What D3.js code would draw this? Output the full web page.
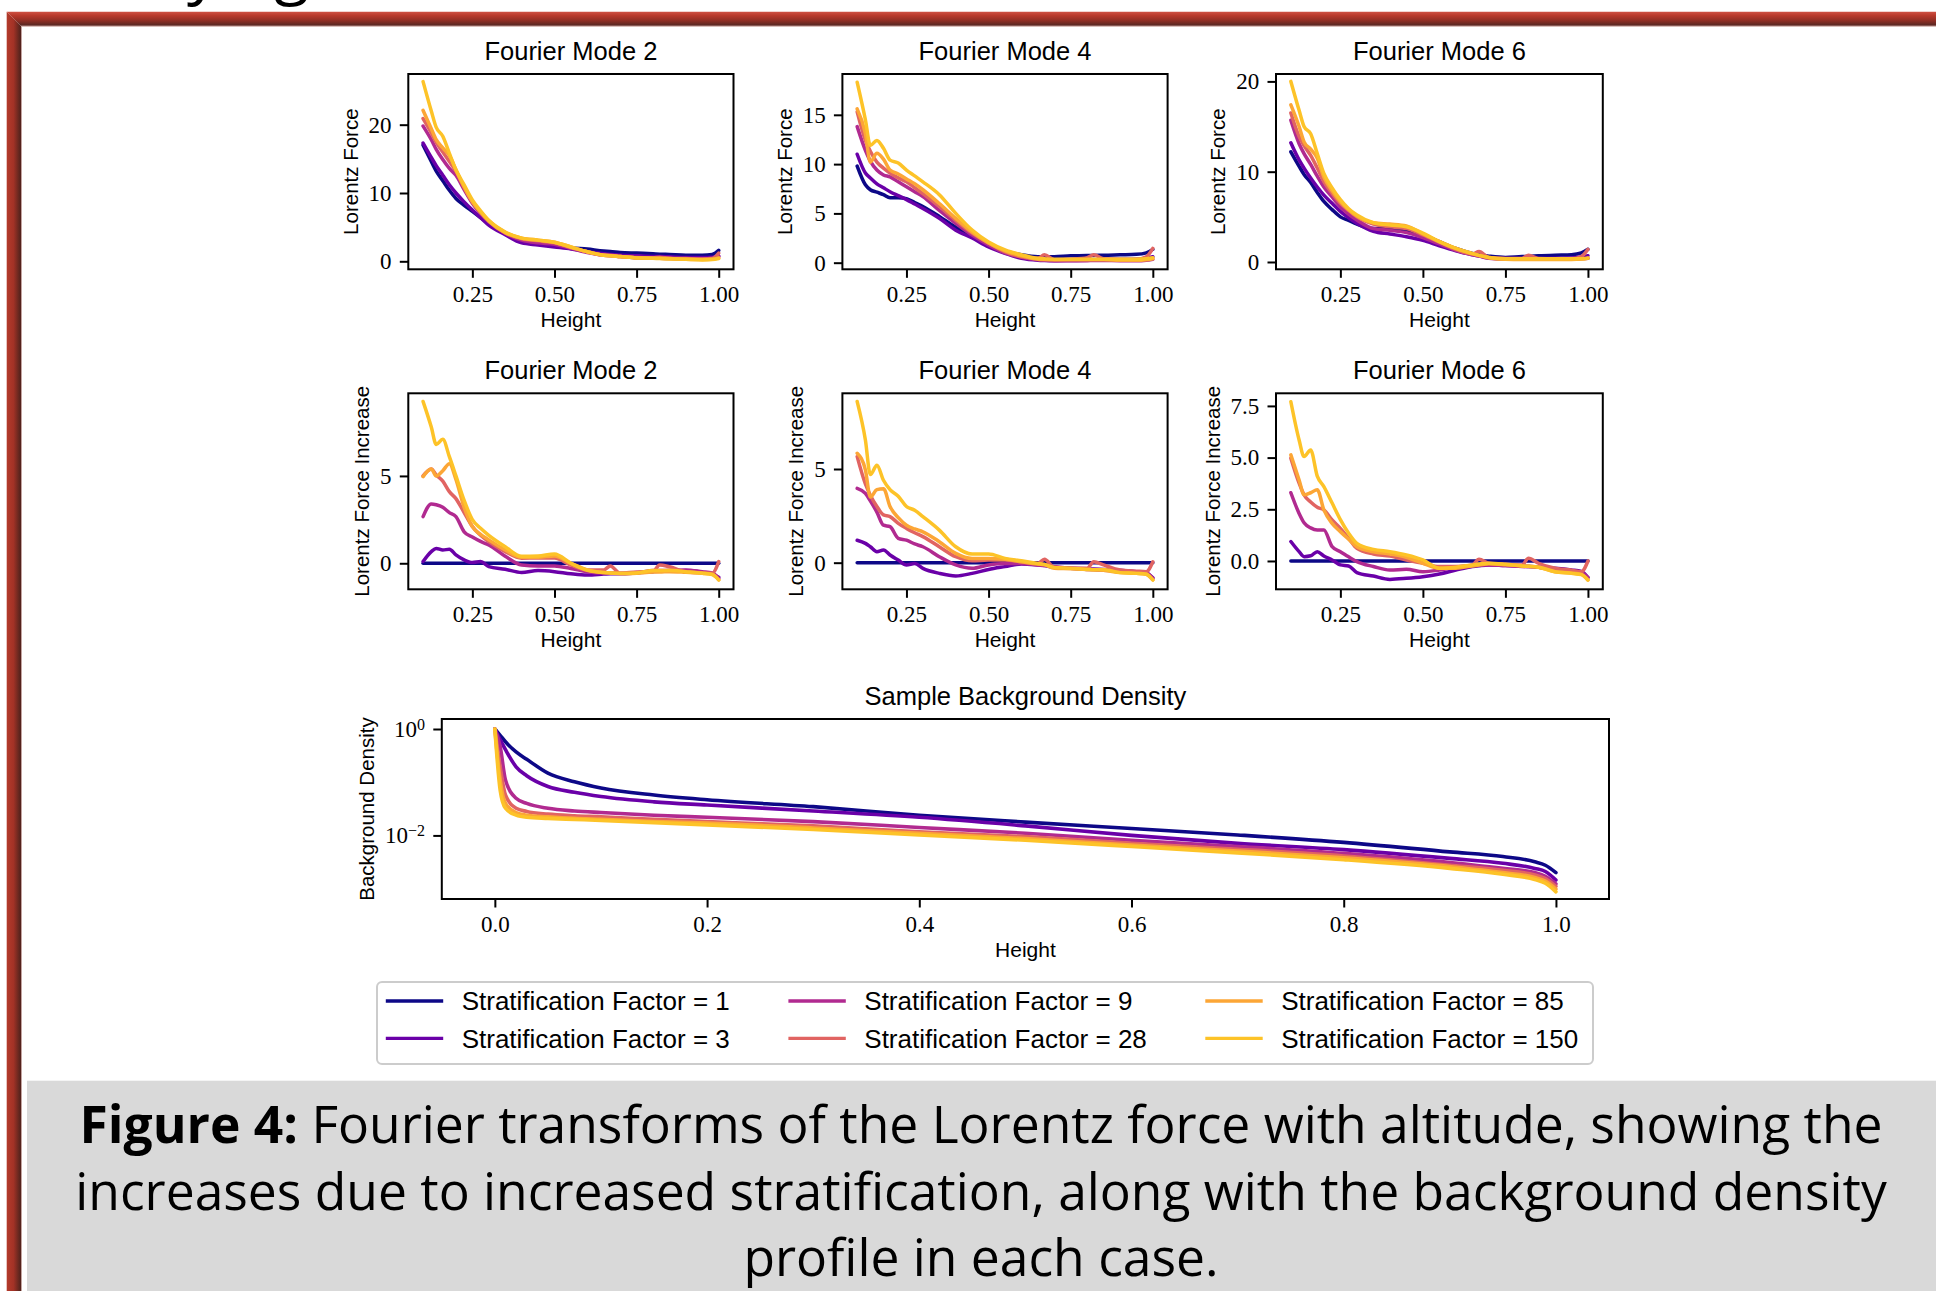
<!DOCTYPE html>
<html>
<head>
<meta charset="utf-8">
<script src="https://cdn.jsdelivr.net/npm/d3@7"></script>
<style>
  html, body { margin: 0; padding: 0; background: #fff; }
  svg { display: block; }
</style>
</head>
<body>
<div id="figure"></div>
<script>
const width = 1936;
const height = 1291;

// ---------- data ----------
const factors = [1, 3, 9, 28, 85, 150];
const colors = ["#0d0887", "#6a00a8", "#b12a90", "#e16462", "#fca636", "#fdc328"];

const heights = [0.10, 0.125, 0.14, 0.16, 0.18, 0.20, 0.225, 0.25, 0.275, 0.30, 0.35, 0.40, 0.45,
                 0.50, 0.55, 0.60, 0.65, 0.67, 0.70, 0.75, 0.80, 0.82, 0.85, 0.90, 0.95, 0.98, 1.00];

const mode2Force = [
  [17.0, 14.6, 13.2, 11.8, 10.4, 9.2, 8.2, 7.3, 6.4, 5.5, 4.1, 3.1, 2.7, 2.4, 2.0, 1.8, 1.5, 1.45, 1.3, 1.2, 1.1, 1.05, 1.0, 0.9, 0.9, 1.0, 1.6],
  [17.3, 15.2, 14.0, 12.6, 11.2, 10.0, 8.7, 7.5, 6.4, 5.3, 3.9, 2.7, 2.4, 2.1, 1.8, 1.4, 1.1, 1.0, 0.9, 0.8, 0.7, 0.7, 0.65, 0.55, 0.55, 0.6, 0.8],
  [19.8, 17.8, 16.4, 14.9, 13.6, 12.6, 10.5, 8.5, 7.0, 5.8, 4.1, 3.1, 2.7, 2.5, 1.9, 1.3, 0.9, 0.8, 0.7, 0.5, 0.45, 0.45, 0.4, 0.35, 0.35, 0.4, 0.7],
  [20.9, 18.8, 17.4, 16.0, 14.6, 13.2, 10.8, 8.7, 7.2, 5.9, 4.2, 3.3, 3.0, 2.7, 2.0, 1.4, 0.9, 0.9, 0.7, 0.55, 0.5, 0.6, 0.45, 0.4, 0.35, 0.4, 1.2],
  [22.1, 19.4, 17.8, 16.6, 15.5, 13.4, 10.9, 8.7, 7.2, 5.9, 4.2, 3.4, 3.1, 2.8, 2.1, 1.4, 0.9, 0.8, 0.7, 0.5, 0.45, 0.45, 0.4, 0.3, 0.25, 0.3, 0.5],
  [26.3, 22.0, 19.6, 18.3, 15.8, 13.4, 11.2, 9.0, 7.4, 6.0, 4.3, 3.4, 3.1, 2.8, 2.1, 1.4, 0.9, 0.8, 0.7, 0.5, 0.45, 0.4, 0.35, 0.3, 0.2, 0.25, 0.4]
];
const mode4Force = [
  [9.8, 7.9, 7.4, 7.15, 6.9, 6.6, 6.6, 6.5, 6.1, 5.7, 4.7, 3.6, 2.8, 2.0, 1.2, 0.8, 0.6, 0.6, 0.6, 0.7, 0.72, 0.74, 0.75, 0.8, 0.85, 1.0, 1.35],
  [11.0, 9.1, 8.6, 8.0, 7.6, 7.2, 6.8, 6.4, 5.95, 5.5, 4.5, 3.3, 2.5, 1.6, 0.95, 0.45, 0.25, 0.22, 0.2, 0.22, 0.25, 0.27, 0.3, 0.32, 0.35, 0.45, 0.6],
  [13.8, 11.4, 10.3, 9.4, 8.9, 8.7, 8.2, 7.7, 7.2, 6.7, 5.3, 4.0, 2.8, 1.8, 1.0, 0.55, 0.3, 0.25, 0.2, 0.2, 0.2, 0.22, 0.22, 0.2, 0.2, 0.25, 0.35],
  [15.3, 12.4, 11.3, 10.2, 9.6, 9.1, 8.6, 8.2, 7.6, 7.0, 5.7, 4.3, 3.0, 2.0, 1.1, 0.6, 0.45, 0.8, 0.3, 0.35, 0.5, 0.8, 0.4, 0.35, 0.35, 0.6, 1.45],
  [15.6, 13.1, 10.2, 11.1, 10.5, 9.4, 9.0, 8.5, 8.0, 7.4, 6.0, 4.5, 3.1, 2.0, 1.2, 0.7, 0.35, 0.32, 0.3, 0.3, 0.3, 0.3, 0.3, 0.25, 0.25, 0.3, 0.4],
  [18.3, 14.5, 11.9, 12.4, 11.6, 10.4, 10.1, 9.4, 8.8, 8.2, 6.9, 5.0, 3.3, 2.1, 1.3, 0.8, 0.45, 0.4, 0.35, 0.35, 0.35, 0.35, 0.35, 0.35, 0.35, 0.4, 0.5]
];
const mode6Force = [
  [12.2, 10.6, 9.7, 8.8, 7.7, 6.7, 5.8, 5.0, 4.6, 4.2, 3.7, 3.7, 3.5, 3.0, 2.25, 1.5, 0.95, 0.8, 0.65, 0.5, 0.6, 0.62, 0.68, 0.75, 0.8, 1.0, 1.4],
  [13.2, 11.3, 10.4, 9.3, 8.3, 7.4, 6.5, 5.6, 4.9, 4.3, 3.4, 3.1, 2.8, 2.4, 1.8, 1.25, 0.8, 0.65, 0.5, 0.4, 0.38, 0.38, 0.4, 0.42, 0.45, 0.55, 0.7],
  [15.7, 13.1, 12.0, 10.8, 9.5, 8.3, 7.2, 6.1, 5.3, 4.65, 3.7, 3.5, 3.25, 2.7, 2.0, 1.3, 0.8, 0.65, 0.4, 0.3, 0.3, 0.3, 0.3, 0.3, 0.3, 0.35, 0.4],
  [16.5, 13.9, 12.9, 11.8, 10.4, 8.9, 7.6, 6.5, 5.7, 5.0, 4.2, 3.9, 3.7, 3.0, 2.2, 1.4, 0.9, 1.15, 0.5, 0.4, 0.4, 0.75, 0.4, 0.35, 0.35, 0.6, 1.4],
  [17.4, 15.0, 13.3, 12.5, 11.5, 9.4, 7.9, 6.7, 5.8, 5.1, 4.35, 4.2, 4.0, 3.1, 2.25, 1.5, 0.9, 0.7, 0.48, 0.3, 0.28, 0.28, 0.28, 0.28, 0.28, 0.32, 0.4],
  [20.0, 16.8, 15.0, 14.2, 12.0, 9.8, 8.2, 6.9, 5.9, 5.2, 4.35, 4.1, 3.9, 3.2, 2.25, 1.5, 0.95, 0.75, 0.5, 0.37, 0.35, 0.35, 0.35, 0.35, 0.35, 0.35, 0.45]
];

// increase relative to stratification factor 1 (its own curve sits on zero)
const noIncrease = [0, 0, 0, 0, 0, 0, 0, 0, 0, 0, 0, 0, 0, 0, 0, 0, 0, 0, 0, 0, 0, 0, 0, 0, 0, 0, 0];
const mode2Increase = [
  noIncrease,
  [0.1, 0.67, 0.85, 0.76, 0.8, 0.48, 0.19, 0.04, 0.1, -0.19, -0.34, -0.53, -0.42, -0.48, -0.6, -0.67, -0.62, -0.6, -0.6, -0.55, -0.48, -0.46, -0.45, -0.42, -0.52, -0.62, -0.8],
  [2.67, 3.4, 3.35, 3.2, 2.9, 2.67, 1.8, 1.5, 1.25, 1.05, 0.4, -0.1, -0.15, -0.15, -0.3, -0.48, -0.55, -0.55, -0.57, -0.55, -0.42, -0.42, -0.4, -0.38, -0.48, -0.55, -0.86],
  [5.0, 5.4, 5.05, 4.7, 4.1, 3.7, 2.9, 2.1, 1.6, 1.24, 0.67, 0.29, 0.3, 0.3, -0.1, -0.38, -0.38, -0.15, -0.57, -0.5, -0.48, -0.1, -0.2, -0.48, -0.54, -0.57, 0.1],
  [4.96, 5.4, 5.0, 5.3, 5.7, 4.8, 3.2, 2.1, 1.65, 1.34, 0.76, 0.34, 0.34, 0.42, 0.0, -0.38, -0.53, -0.55, -0.6, -0.57, -0.5, -0.5, -0.48, -0.52, -0.57, -0.62, -0.95],
  [9.26, 7.8, 6.8, 7.1, 6.1, 5.0, 3.6, 2.5, 2.0, 1.6, 0.95, 0.4, 0.42, 0.53, 0.0, -0.4, -0.53, -0.55, -0.57, -0.55, -0.42, -0.42, -0.4, -0.48, -0.57, -0.65, -0.95]
];
const mode4Increase = [
  noIncrease,
  [1.2, 1.03, 0.85, 0.59, 0.68, 0.41, 0.14, -0.12, -0.04, -0.3, -0.57, -0.71, -0.57, -0.36, -0.21, -0.07, -0.12, -0.15, -0.25, -0.3, -0.32, -0.34, -0.36, -0.4, -0.48, -0.55, -0.8],
  [3.97, 3.7, 3.3, 2.7, 2.0, 1.92, 1.3, 1.2, 1.0, 0.85, 0.32, -0.12, -0.3, -0.12, -0.04, -0.04, -0.12, -0.15, -0.21, -0.3, -0.36, -0.38, -0.4, -0.43, -0.48, -0.55, -0.84],
  [5.66, 4.2, 3.6, 3.0, 2.55, 2.46, 2.1, 1.83, 1.6, 1.39, 0.85, 0.32, 0.1, 0.14, 0.14, 0.05, -0.04, 0.18, -0.25, -0.3, -0.3, 0.05, -0.12, -0.39, -0.45, -0.48, 0.05],
  [5.84, 4.95, 3.5, 3.9, 3.95, 3.0, 2.4, 2.0, 1.8, 1.65, 1.12, 0.5, 0.23, 0.23, 0.18, 0.05, -0.07, -0.1, -0.3, -0.32, -0.36, -0.38, -0.4, -0.53, -0.57, -0.62, -0.92],
  [8.6, 6.55, 4.7, 5.2, 4.4, 3.9, 3.55, 3.0, 2.8, 2.46, 1.74, 0.85, 0.46, 0.46, 0.23, 0.1, -0.04, -0.1, -0.25, -0.3, -0.36, -0.38, -0.36, -0.53, -0.57, -0.62, -0.92]
];
const mode6Increase = [
  noIncrease,
  [0.94, 0.45, 0.21, 0.25, 0.45, 0.24, 0.05, -0.19, -0.24, -0.56, -0.73, -0.89, -0.84, -0.76, -0.63, -0.44, -0.27, -0.23, -0.19, -0.22, -0.24, -0.26, -0.3, -0.35, -0.43, -0.5, -0.8],
  [3.3, 2.3, 1.85, 1.6, 1.5, 1.5, 0.69, 0.45, 0.2, -0.03, -0.27, -0.44, -0.4, -0.52, -0.44, -0.3, -0.22, -0.2, -0.19, -0.22, -0.27, -0.28, -0.3, -0.4, -0.47, -0.55, -0.8],
  [4.97, 3.76, 3.2, 2.85, 2.6, 2.47, 1.98, 1.58, 1.1, 0.61, 0.34, 0.24, 0.05, -0.11, -0.27, -0.27, -0.19, 0.08, -0.11, -0.16, -0.19, 0.13, -0.11, -0.35, -0.45, -0.52, 0.0],
  [5.13, 3.92, 3.2, 3.3, 3.45, 2.47, 1.82, 1.42, 1.05, 0.69, 0.45, 0.34, 0.18, -0.11, -0.35, -0.35, -0.24, -0.2, -0.14, -0.18, -0.24, -0.26, -0.3, -0.52, -0.58, -0.65, -0.92],
  [7.7, 5.85, 5.05, 5.37, 4.1, 3.6, 2.8, 2.0, 1.34, 0.85, 0.56, 0.45, 0.29, 0.05, -0.35, -0.3, -0.19, -0.15, -0.11, -0.16, -0.24, -0.26, -0.3, -0.52, -0.6, -0.66, -0.92]
];

const densityHeights = [0, 0.005, 0.01, 0.02, 0.03, 0.05, 0.075, 0.1, 0.15, 0.2, 0.3, 0.4, 0.5,
                        0.6, 0.7, 0.8, 0.9, 0.95, 0.98, 0.99, 1.0];
const density = [
  [1, 0.76, 0.575, 0.37, 0.27, 0.148, 0.102, 0.078, 0.0575, 0.0468, 0.0347, 0.024, 0.0178, 0.0135, 0.0102, 0.0074, 0.0049, 0.0040, 0.0032, 0.00275, 0.0020],
  [1, 0.63, 0.41, 0.195, 0.132, 0.083, 0.0646, 0.0537, 0.0427, 0.0372, 0.0288, 0.0219, 0.0151, 0.0100, 0.0071, 0.0054, 0.0037, 0.0030, 0.0024, 0.0021, 0.00145],
  [1, 0.47, 0.11, 0.050, 0.040, 0.0324, 0.0288, 0.0269, 0.0240, 0.0219, 0.0182, 0.0141, 0.0110, 0.0081, 0.0062, 0.0046, 0.0031, 0.0024, 0.0020, 0.0017, 0.00123],
  [1, 0.195, 0.0575, 0.0324, 0.0282, 0.0251, 0.0234, 0.0224, 0.0200, 0.0182, 0.0151, 0.0117, 0.0095, 0.0071, 0.0055, 0.0041, 0.00275, 0.0022, 0.0018, 0.00155, 0.0011],
  [1, 0.11, 0.040, 0.0269, 0.0240, 0.0224, 0.0209, 0.0200, 0.0182, 0.0170, 0.0138, 0.0110, 0.0087, 0.0066, 0.0051, 0.0038, 0.0026, 0.0020, 0.00162, 0.00138, 0.00098],
  [1, 0.071, 0.0324, 0.024, 0.0219, 0.0209, 0.0200, 0.0191, 0.0174, 0.0158, 0.0129, 0.0102, 0.0081, 0.0062, 0.0047, 0.0035, 0.0024, 0.00186, 0.00148, 0.00126, 0.00087]
];

const modeTitles = ["Fourier Mode 2", "Fourier Mode 4", "Fourier Mode 6"];
const heightTicks = [0.25, 0.50, 0.75, 1.00];
const forceTicks = [[0, 10, 20], [0, 5, 10, 15], [0, 10, 20]];
const increaseTicks = [[0, 5], [0, 5], [0, 2.5, 5, 7.5]];
const forceLimits = [[-1.17, 27.42], [-0.67, 19.14], [-0.81, 20.82]];
const increaseLimits = [[-1.49, 9.73], [-1.42, 9.04], [-1.37, 8.11]];
const densityHeightTicks = [0, 0.2, 0.4, 0.6, 0.8, 1.0];
const densityTicks = [1, 0.01];
const densityLimits = [Math.pow(10, -3.195), Math.pow(10, 0.188)];

const captionLines = [
  ["Figure 4:", " Fourier transforms of the Lorentz force with altitude, showing the"],
  ["", "increases due to increased stratification, along with the background density"],
  ["", "profile in each case."]
];

// ---------- layout ----------
const sans = "'Liberation Sans', Arial, sans-serif";
const serif = "'Liberation Serif', 'Times New Roman', serif";
const colX = [[408.3, 733.5], [842.4, 1167.6], [1276, 1602.8]];
const rowY = [[74, 269.3], [393.3, 589.3]];

const svg = d3.select("#figure").append("svg")
  .attr("width", width)
  .attr("height", height)
  .attr("viewBox", `0 0 ${width} ${height}`);

svg.append("rect").attr("width", width).attr("height", height).attr("fill", "#fff");

// heading text running off the top of the crop
svg.append("text")
  .attr("x", 87).attr("y", -8)
  .attr("font-family", "'Open Sans', sans-serif")
  .attr("font-size", 64)
  .attr("fill", "#000")
  .text("Varying");

// red bevelled frame
const defs = svg.append("defs");
const topGrad = defs.append("linearGradient").attr("id", "frameTop").attr("x1", 0).attr("y1", 0).attr("x2", 0).attr("y2", 1);
[["0%", "#cf5244"], ["25%", "#b93a2c"], ["60%", "#8f2e24"], ["88%", "#5c2823"], ["100%", "#dcb8b3"]]
  .forEach(([o, c]) => topGrad.append("stop").attr("offset", o).attr("stop-color", c));
const leftGrad = defs.append("linearGradient").attr("id", "frameLeft").attr("x1", 0).attr("y1", 0).attr("x2", 1).attr("y2", 0);
[["0%", "#b33a2b"], ["45%", "#a33226"], ["80%", "#66271f"], ["95%", "#4f201b"], ["100%", "#c9a09a"]]
  .forEach(([o, c]) => leftGrad.append("stop").attr("offset", o).attr("stop-color", c));

svg.append("path")
  .attr("d", `M6.7,11.7 L${width},11.7 L${width},26.7 L21.7,26.7 Z`)
  .attr("fill", "url(#frameTop)");
svg.append("path")
  .attr("d", `M6.7,11.7 L21.7,26.7 L21.7,${height} L6.7,${height} Z`)
  .attr("fill", "url(#frameLeft)");

function drawPanel(o) {
  const g = svg.append("g");
  const x = o.x, y = o.y;
  const [L, R] = x.range();
  const [B, T] = y.range();

  const line = d3.line()
    .x((d, i) => x(o.xs[i]))
    .y(d => y(d))
    .curve(d3.curveMonotoneX);

  g.selectAll("path.series")
    .data(o.series)
    .join("path")
    .attr("class", "series")
    .attr("fill", "none")
    .attr("stroke", (d, i) => colors[i])
    .attr("stroke-width", o.lineWidth || 3.5)
    .attr("stroke-linejoin", "round")
    .attr("stroke-linecap", "round")
    .attr("d", line);

  g.append("rect")
    .attr("x", L).attr("y", T)
    .attr("width", R - L).attr("height", B - T)
    .attr("fill", "none")
    .attr("stroke", "#000")
    .attr("stroke-width", 2);

  const xAxis = g.append("g")
    .attr("transform", `translate(0,${B})`)
    .call(d3.axisBottom(x).tickValues(o.xTicks).tickFormat(o.xFormat).tickSize(8.5).tickPadding(8.2));
  const yAxis = g.append("g")
    .attr("transform", `translate(${L},0)`)
    .call(d3.axisLeft(y).tickValues(o.yTicks).tickFormat(o.yFormat).tickSize(8.5).tickPadding(8.2));

  [xAxis, yAxis].forEach(a => {
    a.attr("font-family", null).attr("font-size", null);
    a.select(".domain").remove();
    a.selectAll(".tick line").attr("stroke", "#000").attr("stroke-width", 2);
    a.selectAll(".tick text")
      .attr("font-family", serif)
      .attr("font-size", 23)
      .attr("fill", "#000");
  });
  if (o.decorateY) o.decorateY(yAxis);

  g.append("text")
    .attr("x", (L + R) / 2).attr("y", T - 14)
    .attr("text-anchor", "middle")
    .attr("font-family", sans).attr("font-size", 25.5)
    .text(o.title);

  g.append("text")
    .attr("x", (L + R) / 2).attr("y", B + 57.7)
    .attr("text-anchor", "middle")
    .attr("font-family", sans).attr("font-size", 21)
    .text("Height");

  let minX = Infinity;
  yAxis.selectAll(".tick text").each(function () {
    minX = Math.min(minX, this.getBBox().x);
  });
  g.append("text")
    .attr("transform", `translate(${L + minX - 11},${(T + B) / 2}) rotate(-90)`)
    .attr("text-anchor", "middle")
    .attr("font-family", sans).attr("font-size", 20.5)
    .text(o.ylabel);
}

const forceSets = [mode2Force, mode4Force, mode6Force];
const increaseSets = [mode2Increase, mode4Increase, mode6Increase];

forceSets.forEach((set, c) => {
  drawPanel({
    x: d3.scaleLinear().domain([0.055, 1.045]).range(colX[c]),
    y: d3.scaleLinear().domain(forceLimits[c]).range([rowY[0][1], rowY[0][0]]),
    xs: heights,
    series: set,
    xTicks: heightTicks,
    xFormat: d3.format(".2f"),
    yTicks: forceTicks[c],
    yFormat: d3.format("d"),
    title: modeTitles[c],
    ylabel: "Lorentz Force"
  });
});

increaseSets.forEach((set, c) => {
  drawPanel({
    x: d3.scaleLinear().domain([0.055, 1.045]).range(colX[c]),
    y: d3.scaleLinear().domain(increaseLimits[c]).range([rowY[1][1], rowY[1][0]]),
    xs: heights,
    series: set,
    xTicks: heightTicks,
    xFormat: d3.format(".2f"),
    yTicks: increaseTicks[c],
    yFormat: c === 2 ? d3.format(".1f") : d3.format("d"),
    title: modeTitles[c],
    ylabel: "Lorentz Force Increase"
  });
});

drawPanel({
  x: d3.scaleLinear().domain([-0.05, 1.05]).range([441.8, 1609]),
  y: d3.scaleLog().domain(densityLimits).range([899, 719]),
  xs: densityHeights,
  series: density,
  lineWidth: 3.6,
  xTicks: densityHeightTicks,
  xFormat: d3.format(".1f"),
  yTicks: densityTicks,
  yFormat: d => String(Math.round(Math.log10(d))),
  decorateY: axis => {
    axis.selectAll(".tick text").each(function () {
      const t = d3.select(this);
      const e = t.text().replace("-", "\u2212");
      t.text("10");
      t.append("tspan").attr("font-size", 16).attr("dy", "-0.45em").text(e);
    });
  },
  title: "Sample Background Density",
  ylabel: "Background Density"
});

// legend
const legendCols = [385.8, 788.4, 1205.3];
const legendRows = [1001, 1038.3];
const legend = svg.append("g");
legend.append("rect")
  .attr("x", 377).attr("y", 982)
  .attr("width", 1216).attr("height", 82)
  .attr("rx", 5)
  .attr("fill", "#fff").attr("fill-opacity", 0.8)
  .attr("stroke", "#cccccc").attr("stroke-width", 2);
factors.forEach((f, i) => {
  const lx = legendCols[Math.floor(i / 2)];
  const ly = legendRows[i % 2];
  legend.append("line")
    .attr("x1", lx).attr("x2", lx + 57.4)
    .attr("y1", ly).attr("y2", ly)
    .attr("stroke", colors[i]).attr("stroke-width", 3.3);
  legend.append("text")
    .attr("x", lx + 75.9).attr("y", ly + 9.3)
    .attr("font-family", sans).attr("font-size", 26)
    .text(`Stratification Factor = ${f}`);
});

// caption panel
svg.append("rect")
  .attr("x", 27).attr("y", 1080.7)
  .attr("width", width - 27).attr("height", height - 1080.7)
  .attr("fill", "#d9d9d9");

const capFont = "'Open Sans', 'Noto Sans', sans-serif";
const probe = svg.append("text").attr("font-family", capFont).attr("font-size", 50).text(captionLines[1][1]);
const capSize = 50 * 1812 / probe.node().getComputedTextLength();
probe.remove();

const capBaselines = [1143, 1210, 1276];
captionLines.forEach(([bold, rest], i) => {
  const t = svg.append("text")
    .attr("x", 981).attr("y", capBaselines[i])
    .attr("text-anchor", "middle")
    .attr("font-family", capFont)
    .attr("font-size", capSize)
    .attr("fill", "#000");
  if (bold) t.append("tspan").attr("font-weight", "bold").text(bold);
  t.append("tspan").text(rest);
});
</script>
</body>
</html>
